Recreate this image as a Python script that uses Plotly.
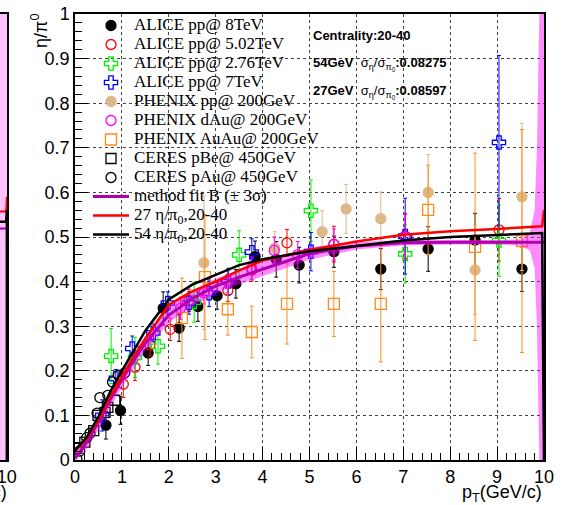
import plotly.graph_objects as go

# ---------------- data ----------------
# ALICE pp @ 8 TeV (black filled circles)
a8_pt  = [0.66, 0.97, 1.56, 1.88, 2.22, 2.62, 3.03, 3.43, 3.84, 4.29, 4.78, 5.52, 6.52, 7.53, 8.53, 9.53]
a8_val = [0.078, 0.111, 0.240, 0.340, 0.296, 0.344, 0.368, 0.395, 0.456, 0.450, 0.437, 0.467, 0.428, 0.473, 0.493, 0.428]
a8_err = [0.031, 0.031, 0.028, 0.037, 0.030, 0.033, 0.030, 0.032, 0.035, 0.040, 0.040, 0.035, 0.046, 0.050, 0.060, 0.050]

# ALICE pp @ 5.02 TeV (red open circles)
a5_pt  = [1.03, 1.28, 1.60, 2.03, 2.43, 3.26, 3.77, 4.52, 5.52, 7.04, 9.04]
a5_val = [0.170, 0.208, 0.258, 0.293, 0.358, 0.380, 0.426, 0.487, 0.484, 0.502, 0.516]
a5_err = [0.030, 0.030, 0.025, 0.025, 0.025, 0.025, 0.025, 0.030, 0.040, 0.050, 0.070]

# ALICE pp @ 2.76 TeV (green open crosses)
a2_pt  = [0.77, 1.28, 1.77, 2.54, 3.50, 5.03, 7.04, 9.04]
a2_val = [0.233, 0.230, 0.255, 0.354, 0.460, 0.559, 0.462, 0.492]
a2_err = [0.062, 0.045, 0.040, 0.045, 0.054, 0.069, 0.065, 0.080]

# ALICE pp @ 7 TeV (blue open crosses)
a7_pt  = [0.58, 0.87, 1.22, 1.67, 1.98, 2.43, 2.86, 3.27, 3.77, 5.03, 7.04, 9.04]
a7_val = [0.100, 0.183, 0.250, 0.285, 0.352, 0.352, 0.374, 0.400, 0.466, 0.467, 0.502, 0.712]
a7_err = [0.035, 0.020, 0.028, 0.020, 0.025, 0.025, 0.030, 0.030, 0.030, 0.043, 0.085, 0.195]

# PHENIX pp @ 200 GeV (tan filled circles)
pp_pt  = [2.75, 4.26, 5.27, 5.78, 6.52, 7.53, 8.53, 9.53]
pp_val = [0.442, 0.475, 0.512, 0.563, 0.541, 0.600, 0.426, 0.590]
pp_err = [0.150, 0.037, 0.047, 0.055, 0.060, 0.085, 0.100, 0.165]

# PHENIX dAu @ 200 GeV (magenta open circles)
da_pt  = [2.25, 2.75, 3.25, 3.77, 4.25, 4.75, 5.52, 7.04]
da_val = [0.340, 0.375, 0.400, 0.430, 0.470, 0.460, 0.483, 0.500]
da_err = [0.025, 0.025, 0.025, 0.025, 0.030, 0.030, 0.035, 0.050]

# PHENIX AuAu @ 200 GeV (orange open squares)
au_pt  = [2.28, 2.77, 3.26, 3.77, 4.52, 5.52, 6.52, 7.53, 8.53, 9.53]
au_val = [0.318, 0.410, 0.338, 0.287, 0.350, 0.350, 0.350, 0.561, 0.478, 0.491]
au_err = [0.090, 0.140, 0.058, 0.058, 0.090, 0.073, 0.130, 0.100, 0.210, 0.250]

# CERES pBe @ 450 GeV (black open squares)
cb_pt  = [0.04, 0.21, 0.40, 0.49, 0.64, 0.70, 0.85]
cb_val = [0.026, 0.040, 0.066, 0.100, 0.107, 0.118, 0.134]

# CERES pAu @ 450 GeV (black open circles)
ca_pt  = [0.04, 0.10, 0.25, 0.32, 0.47, 0.53, 0.70, 0.80, 0.92, 1.06]
ca_val = [0.003, 0.020, 0.050, 0.060, 0.105, 0.140, 0.145, 0.175, 0.190, 0.195]

# fit curves
fit_pt   = [0, 0.25, 0.5, 0.75, 1.0, 1.25, 1.5, 2.0, 2.5, 3.0, 3.5, 4.0, 5.0, 6.0, 7.0, 8.0, 9.0, 9.96, 10.0]
fit_b    = [0.003, 0.040, 0.085, 0.135, 0.180, 0.223, 0.262, 0.325, 0.362, 0.390, 0.410, 0.428, 0.463, 0.480, 0.487, 0.488, 0.488, 0.488, 0.488]
fit_27   = [0.020, 0.048, 0.090, 0.142, 0.186, 0.232, 0.272, 0.348, 0.378, 0.400, 0.425, 0.447, 0.471, 0.490, 0.505, 0.513, 0.518, 0.524, 0.560]
fit_54   = [0.022, 0.051, 0.097, 0.153, 0.200, 0.246, 0.290, 0.360, 0.393, 0.415, 0.437, 0.450, 0.468, 0.480, 0.492, 0.500, 0.505, 0.509, 0.000]

band_pt = [0, 0.25, 0.5, 0.75, 1, 1.5, 2, 2.5, 3, 3.5, 4, 5, 6, 7, 8, 9, 9.5, 9.7, 9.8, 9.85, 9.9, 10]
band_lo = [0, 0.025, 0.068, 0.118, 0.163, 0.245, 0.308, 0.345, 0.373, 0.394, 0.412, 0.449, 0.472, 0.481, 0.483, 0.483, 0.481, 0.470, 0.430, 0.300, 0.0, 0.0]
band_hi = [0.015, 0.055, 0.102, 0.152, 0.197, 0.279, 0.342, 0.379, 0.407, 0.426, 0.444, 0.477, 0.488, 0.493, 0.493, 0.493, 0.495, 0.510, 0.560, 0.700, 1.0, 1.0]

# neighbouring panel (only its right edge is visible)
left_pt    = [9.0, 9.9, 10.0]
left_b     = [0.519, 0.519, 0.519]
left_27    = [0.557, 0.557, 0.590]
left_54    = [0.534, 0.534, 0.560]
left_lo    = [0.0, 0.0, 0.0]
left_hi    = [1.0, 1.0, 1.0]

x_ticks = [0, 1, 2, 3, 4, 5, 6, 7, 8, 9, 10]
y_ticks = [0, 0.1, 0.2, 0.3, 0.4, 0.5, 0.6, 0.7, 0.8, 0.9, 1]
y_tick_text = ['0', '0.1', '0.2', '0.3', '0.4', '0.5', '0.6', '0.7', '0.8', '0.9', '1']

# ---------------- figure ----------------
fig = go.Figure()

def leg(s):
    return '<span style="font-size:17px">' + s + '</span>'

def pts(name, x, y, e, color, symbol, size=10):
    fig.add_trace(go.Scatter(
        x=x, y=y, mode='markers', name=leg(name),
        marker=dict(color=color, symbol=symbol, size=size, line=dict(color=color, width=1.3)),
        error_y=(dict(type='data', array=e, color=color, thickness=1, width=2) if e else None),
        xaxis='x', yaxis='y'))

pts('ALICE pp@ 8TeV', a8_pt, a8_val, a8_err, 'black', 'circle', 10)
pts('ALICE pp@ 5.02TeV', a5_pt, a5_val, a5_err, '#ff0000', 'circle-open', 10)
pts('ALICE pp@ 2.76TeV', a2_pt, a2_val, a2_err, '#00ee00', 'cross-open', 11)
pts('ALICE pp@ 7TeV', a7_pt, a7_val, a7_err, '#0000ff', 'cross-open', 11)
pts('PHENIX pp@ 200GeV', pp_pt, pp_val, pp_err, '#deb887', 'circle', 10)
pts('PHENIX dAu@ 200GeV', da_pt, da_val, da_err, '#ff00ff', 'circle-open', 10)
pts('PHENIX AuAu@ 200GeV', au_pt, au_val, au_err, '#ff8c1a', 'square-open', 11)
pts('CERES pBe@ 450GeV', cb_pt, cb_val, None, 'black', 'square-open', 10)
pts('CERES pAu@ 450GeV', ca_pt, ca_val, None, 'black', 'circle-open', 10)

# band of method B
fig.add_trace(go.Scatter(x=band_pt, y=band_lo, mode='lines', line=dict(width=0),
                         showlegend=False, hoverinfo='skip', xaxis='x', yaxis='y'))
fig.add_trace(go.Scatter(x=band_pt, y=band_hi, mode='lines', line=dict(width=0),
                         fill='tonexty', fillcolor='rgba(255,0,255,0.45)',
                         showlegend=False, hoverinfo='skip', xaxis='x', yaxis='y'))
fig.add_trace(go.Scatter(x=fit_pt, y=fit_b, mode='lines', name=leg('method fit B (± 3σ)'),
                         line=dict(color='#b000b0', width=3), xaxis='x', yaxis='y'))
fig.add_trace(go.Scatter(x=fit_pt, y=fit_27, mode='lines', name=leg('27 η/π<sub>0</sub>,20-40'),
                         line=dict(color='#ff0000', width=2.5), xaxis='x', yaxis='y'))
fig.add_trace(go.Scatter(x=fit_pt, y=fit_54, mode='lines', name=leg('54 η/π<sub>0</sub>,20-40'),
                         line=dict(color='black', width=2.5), xaxis='x', yaxis='y'))

# left neighbour panel
fig.add_trace(go.Scatter(x=left_pt, y=left_lo, mode='lines', line=dict(width=0),
                         showlegend=False, hoverinfo='skip', xaxis='x2', yaxis='y2'))
fig.add_trace(go.Scatter(x=left_pt, y=left_hi, mode='lines', line=dict(width=0),
                         fill='tonexty', fillcolor='rgba(255,120,255,0.45)',
                         showlegend=False, hoverinfo='skip', xaxis='x2', yaxis='y2'))
fig.add_trace(go.Scatter(x=left_pt, y=left_b, mode='lines', line=dict(color='#a000a0', width=2),
                         showlegend=False, xaxis='x2', yaxis='y2'))
fig.add_trace(go.Scatter(x=left_pt, y=left_27, mode='lines', line=dict(color='#ff0000', width=2),
                         showlegend=False, xaxis='x2', yaxis='y2'))
fig.add_trace(go.Scatter(x=left_pt + [10.0], y=left_54 + [0.0], mode='lines',
                         line=dict(color='black', width=2.5),
                         showlegend=False, xaxis='x2', yaxis='y2'))

W, H = 585, 505
ML, MR, MT, MB = 0, 41, 14, 45
PW = W - ML - MR
PH = H - MT - MB
main_left = 75 / PW
tickfont = dict(family='Liberation Sans, Arial, sans-serif', size=18, color='black')

def px_x(p):
    return (p - ML) / PW
def px_y(p):
    return (H - MB - p) / PH

fig.update_layout(
    width=W, height=H,
    margin=dict(l=ML, r=MR, t=MT, b=MB, autoexpand=False),
    paper_bgcolor='white', plot_bgcolor='white',
    showlegend=True,
    legend=dict(x=px_x(88), y=px_y(11), xanchor='left', yanchor='top',
                traceorder='normal', itemwidth=36,
                bgcolor='rgba(0,0,0,0)', borderwidth=0,
                font=dict(family='Liberation Serif, Times New Roman, serif', size=12, color='black'),
                tracegroupgap=0),
    xaxis=dict(domain=[main_left, 1], range=[0, 10], tickvals=x_ticks, ticktext=[str(v) for v in x_ticks],
               ticks='inside', ticklen=13, tickwidth=1, tickcolor='black',
               minor=dict(dtick=0.2, ticks='inside', ticklen=7, tickcolor='black', showgrid=False),
               showgrid=True, gridcolor='#444', griddash='dot', gridwidth=1,
               showline=True, mirror=True, linecolor='black', linewidth=1.5,
               zeroline=False, tickfont=tickfont, anchor='y', automargin=False),
    yaxis=dict(domain=[0, 1], range=[0, 1], tickvals=y_ticks, ticktext=y_tick_text,
               ticks='inside', ticklen=13, tickwidth=1, tickcolor='black',
               minor=dict(dtick=0.02, ticks='inside', ticklen=7, tickcolor='black', showgrid=False),
               showgrid=True, gridcolor='#444', griddash='dot', gridwidth=1,
               showline=True, mirror=True, linecolor='black', linewidth=1.5,
               zeroline=False, tickfont=tickfont, anchor='x', automargin=False),
    xaxis2=dict(domain=[0, 7 / PW], range=[9.0, 10.02], tickvals=[10], ticktext=['10'],
                ticks='', showgrid=False, showline=True, mirror=True, linecolor='black', linewidth=1.5,
                zeroline=False, tickfont=tickfont, anchor='y2', automargin=False,
                ticklabeloverflow='allow'),
    yaxis2=dict(domain=[0, 1], range=[0, 1], showticklabels=False, ticks='', showgrid=False,
                showline=True, mirror=True, linecolor='black', linewidth=1.5,
                zeroline=False, anchor='x2', automargin=False),
)

bold = dict(family='Liberation Sans, Arial, sans-serif', size=13, color='black')

fig.add_annotation(text='<b>Centrality:20-40</b>', xref='paper', yref='paper',
                   x=px_x(311), y=px_y(35), xanchor='left', yanchor='middle', showarrow=False, font=bold)
fig.add_annotation(text='<b>54GeV</b>  σ<sub>η</sub>/σ<sub>π<sub>0</sub></sub><b>:0.08275</b>', xref='paper', yref='paper',
                   x=px_x(311), y=px_y(64), xanchor='left', yanchor='middle', showarrow=False, font=bold)
fig.add_annotation(text='<b>27GeV</b>  σ<sub>η</sub>/σ<sub>π<sub>0</sub></sub><b>:0.08597</b>', xref='paper', yref='paper',
                   x=px_x(311), y=px_y(92), xanchor='left', yanchor='middle', showarrow=False, font=bold)

fig.add_annotation(text='p<sub>T</sub>(GeV/c)', xref='paper', yref='paper',
                   x=1.0, y=px_y(493), xanchor='right', yanchor='middle', showarrow=False,
                   font=dict(family='Liberation Sans, Arial, sans-serif', size=18, color='black'))
fig.add_annotation(text='p<sub>T</sub>(GeV/c)', xref='paper', yref='paper',
                   x=px_x(9), y=px_y(493), xanchor='right', yanchor='middle', showarrow=False,
                   font=dict(family='Liberation Sans, Arial, sans-serif', size=18, color='black'))
fig.add_annotation(text='η/π<sup>0</sup>', xref='paper', yref='paper', textangle=-90,
                   x=px_x(40), y=px_y(12), xanchor='center', yanchor='top', showarrow=False,
                   font=dict(family='Liberation Sans, Arial, sans-serif', size=18, color='black'))

fig.write_html('out.html', config={'displayModeBar': False},
               post_script="document.body.style.margin='0';document.body.style.overflow='hidden';")
